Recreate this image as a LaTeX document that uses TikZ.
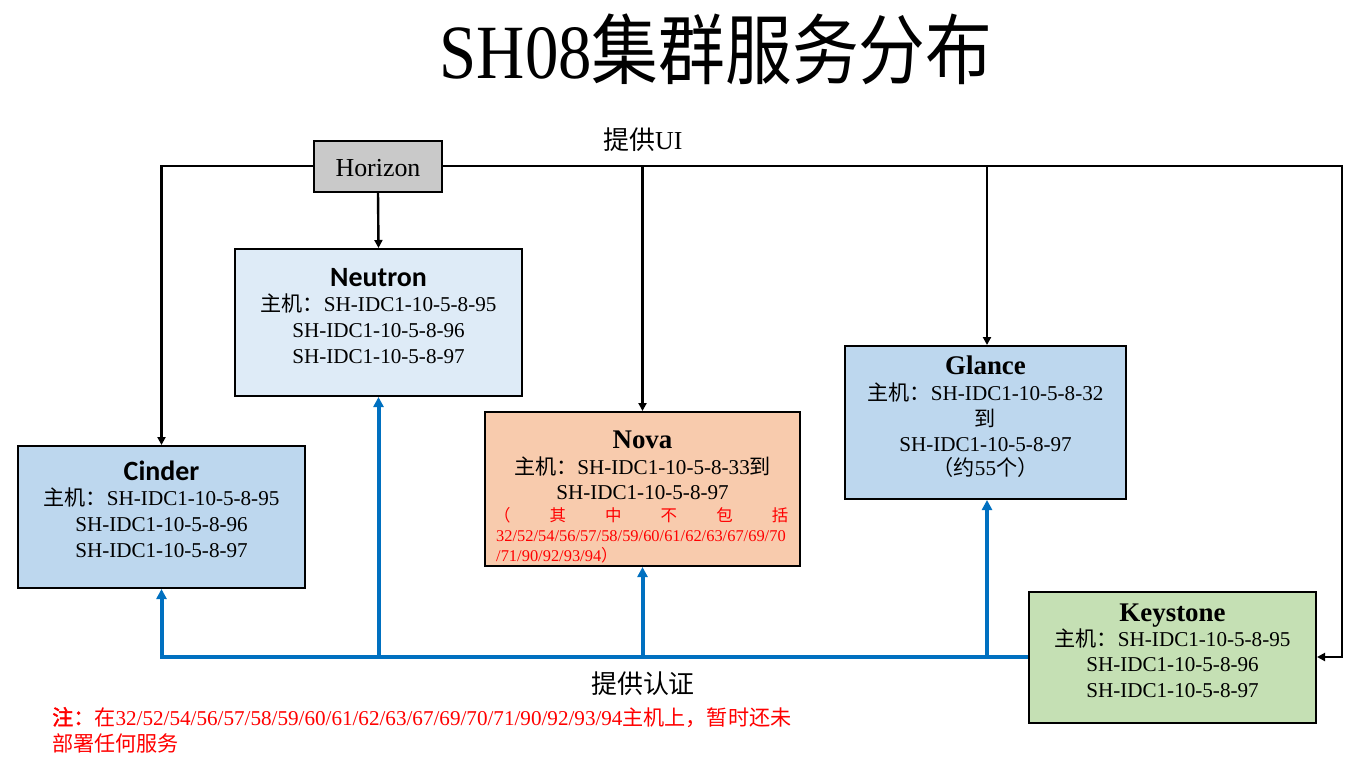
\documentclass[tikz,border=0pt]{standalone}
\usepackage{fontspec}
\usetikzlibrary{arrows.meta}
\setmainfont{Liberation Serif}
\newfontfamily\cjk[AutoFakeBold=2]{Noto Sans CJK SC}
\newfontfamily\titlefont[FakeStretch=0.87]{Liberation Serif}
\newfontfamily\titlecjk[FakeStretch=0.87]{Noto Sans CJK SC}
\newfontfamily\sansfam{Carlito}
\newcommand\zhs[1]{{\cjk #1}}
\newcommand\setfs[1]{\fontsize{#1}{#1}\selectfont}
\definecolor{neutronfill}{HTML}{DEEBF7}
\definecolor{bluefill}{HTML}{BDD7EE}
\definecolor{novafill}{HTML}{F8CBAD}
\definecolor{keyfill}{HTML}{C5E0B4}
\definecolor{horfill}{HTML}{C9C9C9}
\definecolor{blueline}{HTML}{0070C0}
\definecolor{redtxt}{HTML}{FF0000}
\tikzset{
  svcbox/.style={draw=black, line width=2bp, inner sep=0pt},
  txt/.style={anchor=base, inner sep=0pt, font=\setfs{21.2}},
  ttlserif/.style={anchor=base, inner sep=0pt, font=\setfs{27}\bfseries},
  ttlsans/.style={anchor=base, inner sep=0pt, font=\sansfam\setfs{28}\bfseries},
  redsmall/.style={anchor=base west, inner sep=0pt, font=\setfs{16.5}, text=redtxt},
  blk/.style={draw=black, line width=2.4bp, -{Triangle[length=8bp,width=8bp]}},
  blu/.style={draw=blueline, line width=4bp, -{Triangle[length=10bp,width=10bp]}}
}
\begin{document}
\begin{tikzpicture}[x=1bp,y=-1bp]
\useasboundingbox[fill=white] (0,0) rectangle (1365,767);

% title
\node[anchor=base, inner sep=0pt, font=\titlefont\fontsize{77}{77}\selectfont] (title) at (716,78) {SH08{\titlecjk 集群服务分布}};

% boxes
\node[svcbox, fill=horfill, minimum width=128bp, minimum height=51bp] (horizon) at (378,166) {};
\node[svcbox, fill=neutronfill, minimum width=287bp, minimum height=147bp] (neutron) at (378.5,322.5) {};
\node[svcbox, fill=bluefill, minimum width=287bp, minimum height=142bp] (cinder) at (161.5,517) {};
\node[svcbox, fill=novafill, minimum width=315bp, minimum height=154bp] (nova) at (642.5,489) {};
\node[svcbox, fill=bluefill, minimum width=281bp, minimum height=153bp] (glance) at (985.5,422.5) {};
\node[svcbox, fill=keyfill, minimum width=287bp, minimum height=131bp] (keystone) at (1172.5,657) {};

% Horizon text
\node[anchor=base, inner sep=0pt, font=\setfs{26}] (horizon-t) at (378,176) {Horizon};

% Neutron
\node[ttlsans] (neutron-t) at (378.5,286) {Neutron};
\node[txt] (neutron-l1) at (378.5,311) {\zhs{主机：}SH-IDC1-10-5-8-95};
\node[txt] (neutron-l2) at (378.5,337) {SH-IDC1-10-5-8-96};
\node[txt] (neutron-l3) at (378.5,363) {SH-IDC1-10-5-8-97};

% Cinder
\node[ttlsans] (cinder-t) at (161.5,480) {Cinder};
\node[txt] (cinder-l1) at (161.5,505) {\zhs{主机：}SH-IDC1-10-5-8-95};
\node[txt] (cinder-l2) at (161.5,531) {SH-IDC1-10-5-8-96};
\node[txt] (cinder-l3) at (161.5,557) {SH-IDC1-10-5-8-97};

% Nova
\node[ttlserif] (nova-t) at (642.5,448) {Nova};
\node[txt] (nova-l1) at (642.5,474) {\zhs{主机：}SH-IDC1-10-5-8-33\zhs{到}};
\node[txt] (nova-l2) at (642.5,499) {SH-IDC1-10-5-8-97};
\node[redsmall] (nova-r1) at (494,521) {\makebox[294bp][s]{\zhs{（}\hfill\zhs{其}\hfill\zhs{中}\hfill\zhs{不}\hfill\zhs{包}\hfill\zhs{括}}};
\node[redsmall] (nova-r2) at (496,541) {32/52/54/56/57/58/59/60/61/62/63/67/69/70};
\node[redsmall] (nova-r3) at (496,561) {/71/90/92/93/94\zhs{）}};

% Glance
\node[ttlserif] (glance-t) at (985.5,374) {Glance};
\node[txt] (glance-l1) at (985.5,400) {\zhs{主机：}SH-IDC1-10-5-8-32};
\node[txt] (glance-l2) at (985.5,426) {\zhs{到}};
\node[txt] (glance-l3) at (985.5,451) {SH-IDC1-10-5-8-97};
\node[txt] (glance-l4) at (985.5,475) {\zhs{（约}55\zhs{个）}};

% Keystone
\node[ttlserif] (keystone-t) at (1172.5,621) {Keystone};
\node[txt] (keystone-l1) at (1172.5,646) {\zhs{主机：}SH-IDC1-10-5-8-95};
\node[txt] (keystone-l2) at (1172.5,671) {SH-IDC1-10-5-8-96};
\node[txt] (keystone-l3) at (1172.5,697) {SH-IDC1-10-5-8-97};

% labels
\node[anchor=base, inner sep=0pt, font=\setfs{26}] (ui-label) at (643,149) {\zhs{提供}UI};
\node[anchor=base, inner sep=0pt, font=\setfs{26}] (auth-label) at (643,693) {\zhs{提供认证}};

% note
\node[anchor=base west, inner sep=0pt, font=\setfs{21.2}, text=redtxt] (note1) at (52,725) {{\bfseries\zhs{注：}}\zhs{在}32/52/54/56/57/58/59/60/61/62/63/67/69/70/71/90/92/93/94\zhs{主机上，暂时还未}};
\node[anchor=base west, inner sep=0pt, font=\setfs{21.2}, text=redtxt] (note2) at (52,751) {\zhs{部署任何服务}};

% black connectors
\coordinate (tr) at (1342,166);
\draw[blk] (horizon.west) -| (cinder.north);
\draw[blk] (horizon.south) -- (neutron.north);
\draw[blk] (horizon.east) -- (tr) |- (keystone.east);
\draw[blk] (nova.north |- horizon.east) -- (nova.north);
\coordinate (gtop) at (987,166);
\draw[blk] (gtop) -- (glance.north -| gtop);

% blue connectors
\draw[blu] (keystone.west) -| (cinder.south);
\draw[blu] (neutron.south |- keystone.west) -- (neutron.south);
\draw[blu] (nova.south |- keystone.west) -- (nova.south);
\coordinate (gbot) at (987,657);
\draw[blu] (gbot) -- (glance.south -| gbot);
\end{tikzpicture}
\end{document}
